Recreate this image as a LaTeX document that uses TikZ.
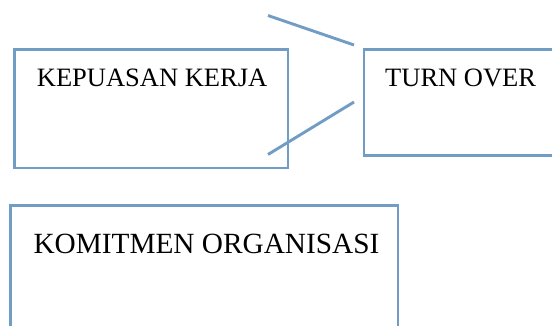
\documentclass[tikz,border=0pt]{standalone}
\usepackage{fontspec}
\setmainfont{Liberation Serif}
\usetikzlibrary{positioning}
\definecolor{boxblue}{RGB}{113,156,196}

\begin{document}
\begin{tikzpicture}[x=1pt,y=-1pt,
	box/.style={draw=boxblue,line width=2.9pt,rectangle,outer sep=0pt},
	link/.style={draw=boxblue,line width=2.9pt},
	lbl/.style={inner sep=0pt,anchor=base west,font=\fontsize{26.5}{30}\selectfont}]
	\useasboundingbox (0,0) rectangle (552,326);
	\clip (0,0) rectangle (552,326);
	\node[box,minimum width=273.3pt,minimum height=118.3pt] (kepuasan) at (151.35,108.85) {};
	\node[box,minimum width=276pt,minimum height=105.6pt] (turnover) at (502,102.5) {};
	\node[box,minimum width=387.3pt,minimum height=194.7pt] (komitmen) at (204.35,302.65) {};
	\node[lbl] (kepuasanText) at (36.7,87) {KEPUASAN KERJA};
	\node[lbl] (turnoverText) at (385,87) {TURN OVER};
	\node[lbl,font=\fontsize{29.3}{33}\selectfont] (komitmenText) at (33.3,253.3) {KOMITMEN ORGANISASI};
	\coordinate (topStart) at (268,15.5);
	\coordinate (topEnd) at (354,45);
	\coordinate (lowStart) at (354,102);
	\coordinate (lowEnd) at (268,154.5);
	\draw[link] (topStart) -- (topEnd);
	\draw[link] (lowStart) -- (lowEnd);
\end{tikzpicture}
\end{document}
